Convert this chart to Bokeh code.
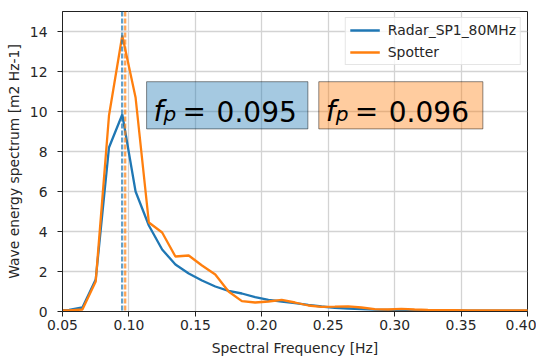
from bokeh.plotting import figure
from bokeh.models import Span, BoxAnnotation, Label, FixedTicker, Range1d
from bokeh.embed import file_html
from bokeh.resources import INLINE

# ---- data ----
freq = [0.045, 0.055, 0.065, 0.075, 0.085, 0.095, 0.105, 0.115, 0.125, 0.135,
        0.145, 0.155, 0.165, 0.175, 0.185, 0.195, 0.205, 0.215, 0.225, 0.235,
        0.245, 0.255, 0.265, 0.275, 0.285, 0.295, 0.305, 0.315, 0.325, 0.335,
        0.345, 0.355, 0.365, 0.375, 0.385, 0.395, 0.405]
radar = [0.05, 0.08, 0.2, 1.6, 8.2, 9.85, 6.0, 4.3, 3.1, 2.35,
         1.9, 1.55, 1.25, 1.03, 0.9, 0.72, 0.58, 0.5, 0.42, 0.33,
         0.25, 0.18, 0.15, 0.12, 0.09, 0.08, 0.07, 0.06, 0.05, 0.05,
         0.05, 0.04, 0.04, 0.04, 0.04, 0.04, 0.04]
spotter = [0.05, 0.06, 0.1, 1.5, 9.8, 13.8, 10.7, 4.45, 3.95, 2.75,
           2.8, 2.3, 1.85, 1.0, 0.52, 0.45, 0.5, 0.58, 0.45, 0.3,
           0.23, 0.24, 0.26, 0.2, 0.12, 0.1, 0.13, 0.1, 0.08, 0.07,
           0.07, 0.06, 0.06, 0.06, 0.06, 0.06, 0.06]
fp_lines = [0.0949, 0.0972]
fp_labels = ["0.095", "0.096"]
series_names = ["Radar_SP1_80MHz", "Spotter"]
x_ticks = [0.05, 0.10, 0.15, 0.20, 0.25, 0.30, 0.35, 0.40]
x_tick_labels = ["0.05", "0.10", "0.15", "0.20", "0.25", "0.30", "0.35", "0.40"]
y_ticks = [0, 2, 4, 6, 8, 10, 12, 14]

C0 = "#1f77b4"
C1 = "#ff7f0e"
FONT = "DejaVu Sans"
FS = "13.9px"

p = figure(width=536, height=358, output_backend="svg", toolbar_location=None,
           x_range=Range1d(0.05, 0.40), y_range=Range1d(0, 15),
           min_border_left=62, min_border_top=11, min_border_right=9, min_border_bottom=45,
           background_fill_color="white", border_fill_color="white")

p.line(freq, radar, line_color=C0, line_width=2.3, legend_label=series_names[0])
p.line(freq, spotter, line_color=C1, line_width=2.3, legend_label=series_names[1])

for loc, col in zip(fp_lines, [C0, C1]):
    p.add_layout(Span(location=loc, dimension="height", line_color=col,
                      line_width=2.3, line_alpha=0.7, line_dash="5 2"))

# fp annotation boxes
boxes = [(0.1133, 0.2347, fp_labels[0], C0), (0.2429, 0.3664, fp_labels[1], C1)]
for left, right, lab, col in boxes:
    p.add_layout(BoxAnnotation(left=left, right=right, bottom=9.13, top=11.49,
                               fill_color=col, fill_alpha=0.4,
                               line_color="black", line_alpha=0.45, line_width=1))
    common = dict(x=left, y=10.0, text_baseline="alphabetic", text_align="left",
                  text_font=FONT, text_color="black")
    p.add_layout(Label(text="f", x_offset=7, text_font_size="28px",
                       text_font_style="italic", **common))
    p.add_layout(Label(text="p", x_offset=17, y_offset=-2, text_font_size="20px",
                       text_font_style="italic", **common))
    p.add_layout(Label(text="=", x_offset=36, text_font_size="28px", **common))
    p.add_layout(Label(text=lab, x_offset=70, text_font_size="28px", **common))

# axes
for ax in (p.xaxis, p.yaxis):
    ax.axis_line_color = "#222222"
    ax.major_tick_line_color = "#222222"
    ax.major_tick_out = 5
    ax.major_tick_in = 0
    ax.minor_tick_line_color = None
    ax.major_label_text_font = FONT
    ax.major_label_text_font_size = FS
    ax.major_label_text_color = "#262626"
    ax.axis_label_text_font = FONT
    ax.axis_label_text_font_size = FS
    ax.axis_label_text_font_style = "normal"
    ax.axis_label_text_color = "#262626"

p.xaxis.ticker = FixedTicker(ticks=x_ticks)
p.xaxis.major_label_overrides = {t: l for t, l in zip(x_ticks, x_tick_labels)}
p.yaxis.ticker = FixedTicker(ticks=y_ticks)
p.xaxis.axis_label = "Spectral Frequency [Hz]"
p.yaxis.axis_label = "Wave energy spectrum [m2 Hz-1]"
p.xaxis.major_label_standoff = 3
p.xaxis.axis_label_standoff = 7
p.yaxis.major_label_standoff = 10
p.yaxis.axis_label_standoff = 5

p.outline_line_color = "#222222"
p.outline_line_width = 1
p.outline_line_alpha = 1

for g in (p.xgrid, p.ygrid):
    g.grid_line_color = "#d3d3d3"
    g.grid_line_width = 1.3

lg = p.legend[0]
lg.location = "top_right"
lg.margin = 6
lg.padding = 4
lg.spacing = 6
lg.glyph_width = 30
lg.glyph_height = 16
lg.label_height = 16
lg.label_standoff = 8
lg.label_text_font = FONT
lg.label_text_font_size = FS
lg.label_text_color = "#262626"
lg.border_line_color = "#cccccc"
lg.border_line_width = 1
lg.background_fill_alpha = 0.8

open("out.html", "w").write(file_html(p, INLINE))
